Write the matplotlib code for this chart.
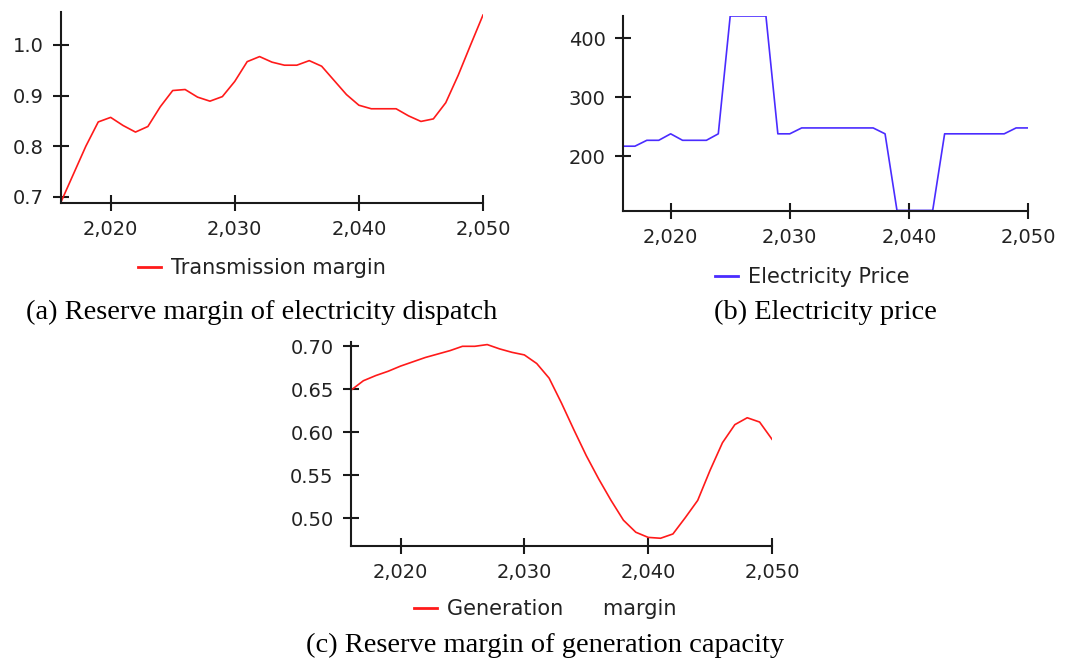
import matplotlib

matplotlib.use("Agg")
import matplotlib.pyplot as plt
from matplotlib.ticker import FuncFormatter

years = list(range(2016, 2051))

transmission_margin = [
    0.690, 0.745, 0.800, 0.848, 0.857, 0.841, 0.828, 0.839, 0.878, 0.910,
    0.912, 0.897, 0.889, 0.898, 0.928, 0.967, 0.977, 0.966, 0.960, 0.960,
    0.969, 0.958, 0.930, 0.902, 0.881, 0.874, 0.874, 0.874, 0.860, 0.849,
    0.854, 0.886, 0.940, 1.000, 1.059,
]

electricity_price = [
    217, 217, 227, 227, 238, 227, 227, 227, 238, 438,
    438, 438, 438, 238, 238, 248, 248, 248, 248, 248,
    248, 248, 238, 108, 108, 108, 108, 238, 238, 238,
    238, 238, 238, 248, 248,
]

generation_margin = [
    0.649, 0.660, 0.666, 0.671, 0.677, 0.682, 0.687, 0.691, 0.695, 0.700,
    0.700, 0.702, 0.697, 0.693, 0.690, 0.680, 0.663, 0.634, 0.603, 0.573,
    0.546, 0.521, 0.498, 0.484, 0.478, 0.477, 0.482, 0.501, 0.521, 0.556,
    0.588, 0.609, 0.617, 0.612, 0.592,
]

x_ticks = [2020, 2030, 2040, 2050]
captions = [
    "(a) Reserve margin of electricity dispatch",
    "(b) Electricity price",
    "(c) Reserve margin of generation capacity",
]

W, H = 1085, 661
TICK_FS = 14
LEGEND_FS = 15
AXIS_COLOR = "#1a1a1a"


def px_rect(left, top, right, bottom):
    return [left / W, 1 - bottom / H, (right - left) / W, (bottom - top) / H]


def style_axes(ax, yticks, yfmt):
    for side in ("top", "right"):
        ax.spines[side].set_visible(False)
    for side in ("left", "bottom"):
        ax.spines[side].set_color(AXIS_COLOR)
        ax.spines[side].set_linewidth(1.5)
    ax.set_xlim(2016, 2050)
    ax.set_xticks(x_ticks)
    ax.xaxis.set_major_formatter(FuncFormatter(lambda v, _: f"{int(v):,}"))
    ax.set_yticks(yticks)
    ax.yaxis.set_major_formatter(FuncFormatter(lambda v, _: yfmt.format(v)))
    ax.tick_params(direction="inout", length=11, width=1.5, color=AXIS_COLOR,
                   labelsize=TICK_FS, labelcolor="#222222", pad=7)


def add_legend(ax, fig, cx, cy):
    leg = ax.legend(loc="center", bbox_to_anchor=(cx / W, 1 - cy / H),
                    bbox_transform=fig.transFigure, frameon=False,
                    fontsize=LEGEND_FS, handlelength=1.1, handletextpad=0.5,
                    borderpad=0, labelcolor="#222222")
    for line in leg.get_lines():
        line.set_linewidth(2)


fig = plt.figure(figsize=(W / 100, H / 100), dpi=100)

# (a) transmission margin
ax_a = fig.add_axes(px_rect(61, 12, 483, 203))
ax_a.plot(years, transmission_margin, color="#ff1a1a", lw=1.2,
          label="Transmission margin")
ax_a.set_ylim(0.688, 1.065)
style_axes(ax_a, [0.7, 0.8, 0.9, 1.0], "{:.1f}")
add_legend(ax_a, fig, 262, 268)

# (b) electricity price
ax_b = fig.add_axes(px_rect(623, 16, 1028, 211))
ax_b.plot(years, electricity_price, color="#4a2cff", lw=1.2,
          label="Electricity Price")
ax_b.set_ylim(107, 438)
style_axes(ax_b, [200, 300, 400], "{:.0f}")
add_legend(ax_b, fig, 812, 277)

# (c) generation margin
ax_c = fig.add_axes(px_rect(351, 342, 772, 546))
ax_c.plot(years, generation_margin, color="#ff1a1a", lw=1.2,
          label="Generation      margin")
ax_c.set_ylim(0.468, 0.705)
style_axes(ax_c, [0.50, 0.55, 0.60, 0.65, 0.70], "{:.2f}")
add_legend(ax_c, fig, 545, 609)

caption_pos = [(262, 312), (825, 312), (545, 645)]
for text, (cx, cy) in zip(captions, caption_pos):
    fig.text(cx / W, 1 - cy / H, text, ha="center", va="center",
             family="Liberation Serif", fontsize=20.5, color="black")

fig.savefig("out.png", dpi=100)
